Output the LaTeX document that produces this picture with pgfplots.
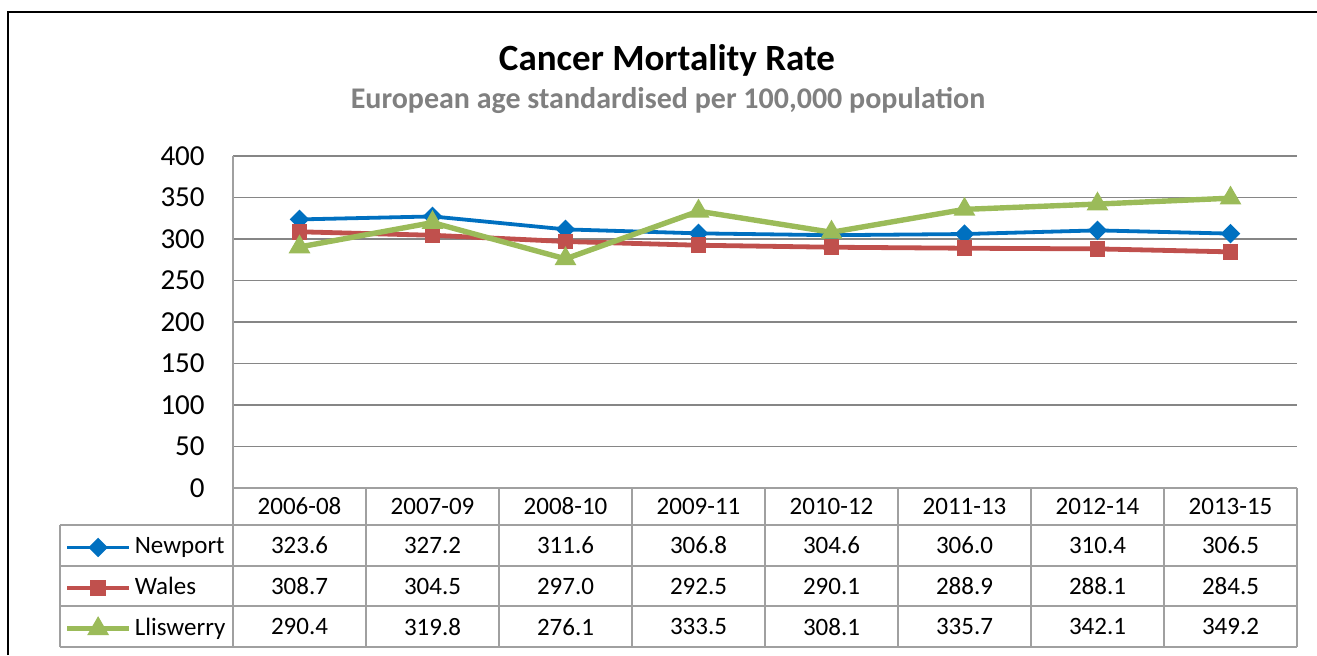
\documentclass[border=0pt]{standalone}
\usepackage{pgfplots}
\usepackage{pgfplotstable}
\pgfplotsset{compat=1.18}
\usepackage{fontspec}
\setmainfont{Carlito}

\definecolor{cNewport}{RGB}{0,112,192}
\definecolor{cWales}{RGB}{192,80,77}
\definecolor{cLlis}{RGB}{155,187,89}
\definecolor{gridgray}{RGB}{134,134,134}
\definecolor{tblgray}{RGB}{160,160,160}
\definecolor{subgray}{RGB}{128,128,128}

\pgfplotstableread{
x period Newport Wales Lliswerry
0 2006-08 323.6 308.7 290.4
1 2007-09 327.2 304.5 319.8
2 2008-10 311.6 297.0 276.1
3 2009-11 306.8 292.5 333.5
4 2010-12 304.6 290.1 308.1
5 2011-13 306.0 288.9 335.7
6 2012-14 310.4 288.1 342.1
7 2013-15 306.5 284.5 349.2
}\datatable

\begin{document}
\begin{tikzpicture}
% page = 1317 x 655 px at 0.5pt per px, plot corner at px (233,488)
\useasboundingbox (-116.5pt,-83.5pt) rectangle (542pt,244pt);
\begin{axis}[
  scale only axis, width=532pt, height=166pt,
  xmin=-0.5, xmax=7.5, ymin=0, ymax=400,
  xtick=data, xticklabels from table={\datatable}{period},
  ytick distance=50,
  major tick length=0pt,
  axis lines*=left,
  axis line style={tblgray, line width=0.6pt},
  ymajorgrids, grid style={gridgray, line width=0.6pt},
  /pgf/number format/assume math mode=true,
  yticklabel style={font=\fontsize{14.5}{17}\selectfont, anchor=east, inner sep=0pt, xshift=-14pt},
  xticklabel style={font=\fontsize{12.5}{15}\selectfont, anchor=center, yshift=-9.25pt},
  legend style={draw=none, fill=none, inner sep=0pt, at={(-0.1588,-0.1431)}, anchor=north west,
    row sep=8.83pt, column sep=1.5pt,
    nodes={inner sep=0pt, text height=9pt, text depth=2.5pt},
    font=\fontsize{12.5}{15}\selectfont},
  legend cell align=left,
  legend image code/.code={\draw[mark repeat=2,mark phase=2,#1] plot coordinates {(0pt,0pt) (15.5pt,0pt) (31pt,0pt)};},
]
\addplot[cNewport, line width=1.9pt, mark=square*, mark size=2.5pt, mark options={rotate=45, solid}]
  table[x=x, y=Newport] {\datatable};
\addplot[cWales, line width=2.4pt, mark=square*, mark size=2.7pt, mark options={solid}]
  table[x=x, y=Wales] {\datatable};
\addplot[cLlis, line width=2.7pt, mark=triangle*, mark size=3.6pt, mark options={solid}]
  table[x=x, y=Lliswerry] {\datatable};
\legend{Newport, Wales, Lliswerry}
\end{axis}

\begin{scope}[x=0.5pt, y=-0.5pt, shift={(-233,-488)}]
  % outer frame
  \draw[line width=1pt] (8,655) -- (8,12) -- (1317,12);
  % titles
  \node[font=\bfseries\fontsize{18.5}{22}\selectfont] at (667,60) {Cancer Mortality Rate};
  \node[font=\bfseries\fontsize{15}{18}\selectfont, text=subgray] at (668,100) {European age standardised per 100,000 population};
  % data table grid
  \begin{scope}[tblgray, line width=0.6pt]
    \draw (233,488) -- (1297,488);
    \foreach \yy in {525,566,606,647} \draw (60,\yy) -- (1297,\yy);
    \draw (60,525) -- (60,647);
    \foreach \k in {0,...,8} \draw ({233+133*\k},488) -- ({233+133*\k},647);
  \end{scope}
  % data table values
  \foreach \r in {0,...,7} {
    \foreach [count=\k] \c in {Newport,Wales,Lliswerry} {
      \pgfplotstablegetelem{\r}{\c}\of\datatable
      \node[font=\fontsize{12.5}{15}\selectfont] at ({233+133*\r+66.5},{525+40.67*(\k-0.5)}) {\pgfplotsretval};
    }
  }
\end{scope}
\end{tikzpicture}
\end{document}
